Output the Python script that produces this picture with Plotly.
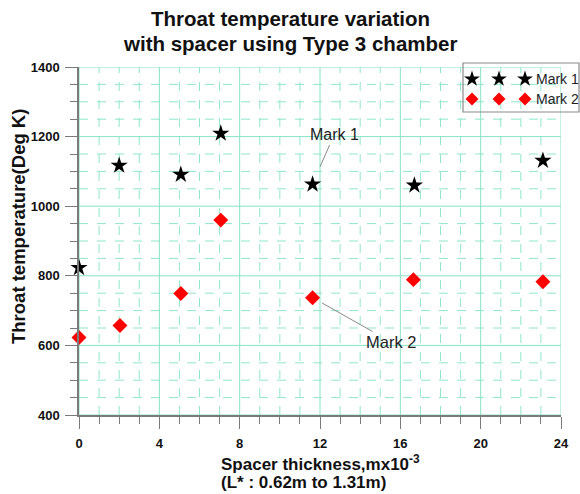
import numpy as np
import plotly.graph_objects as go

# Spacer thickness (x1e-3 m) and throat temperature (K)
mark1_x = [0.0, 2.0, 5.07, 7.06, 11.63, 16.7, 23.1]
mark1_y = [823, 1117, 1091, 1209, 1063, 1060, 1131]
mark2_x = [0.0, 2.04, 5.07, 7.06, 11.63, 16.65, 23.1]
mark2_y = [623, 657, 749, 960, 737, 789, 783]

series_names = ["Mark 1", "Mark 2"]
x_ticks = [0, 4, 8, 12, 16, 20, 24]
y_ticks = [400, 600, 800, 1000, 1200, 1400]

FONT = "Liberation Sans, Arial, sans-serif"
GRID = "#86e3c6"
GRID_MINOR = "#8fe6cb"
AXIS = "#7a7a7a"

fig = go.Figure()

fig.add_trace(go.Scatter(
    x=mark1_x, y=mark1_y, mode="markers", name=series_names[0],
    marker=dict(symbol="star", size=13, color="black", line=dict(width=0)),
    showlegend=False, cliponaxis=False,
))
fig.add_trace(go.Scatter(
    x=mark2_x, y=mark2_y, mode="markers", name=series_names[1],
    marker=dict(symbol="diamond", size=11.5, color="#ff0000", line=dict(width=0)),
    showlegend=False, cliponaxis=False,
))

# Legend samples: three symbols per entry, drawn on a hidden overlay axis
legend_sample_x = [472, 499, 525]
legend_rows_y = [79, 99]
fig.add_trace(go.Scatter(
    x=legend_sample_x, y=[legend_rows_y[0]] * 3, mode="markers",
    marker=dict(symbol="star", size=12, color="black"),
    xaxis="x2", yaxis="y2", showlegend=False, hoverinfo="skip", cliponaxis=False,
))
fig.add_trace(go.Scatter(
    x=legend_sample_x, y=[legend_rows_y[1]] * 3, mode="markers",
    marker=dict(symbol="diamond", size=10, color="#ff0000"),
    xaxis="x2", yaxis="y2", showlegend=False, hoverinfo="skip", cliponaxis=False,
))

axis_common = dict(
    showline=True, linecolor=AXIS, linewidth=1.5,
    ticks="outside", tickcolor=AXIS, tickwidth=1, ticklen=12,
    showgrid=False, zeroline=False, layer="above traces",
    tickfont=dict(family=FONT, size=13, color="#111", weight="bold"),
)
hidden_axis = dict(visible=False, showgrid=False, zeroline=False,
                   showticklabels=False, showline=False, ticks="")

fig.update_layout(
    width=580, height=494,
    margin=dict(l=79, r=19, t=67, b=79),
    paper_bgcolor="white", plot_bgcolor="white",
    showlegend=False,
    xaxis=dict(
        range=[0, 24], tickvals=x_ticks, ticklabelstandoff=4, **axis_common,
        minor=dict(dtick=1, ticks="outside", ticklen=7, tickcolor=AXIS, showgrid=False),
    ),
    yaxis=dict(
        range=[400, 1400], tickvals=y_ticks, ticklabelstandoff=3, **axis_common,
        minor=dict(dtick=50, ticks="outside", ticklen=7, tickcolor=AXIS, showgrid=False),
    ),
    xaxis2=dict(domain=[0, 1], range=[79, 561], overlaying="x", anchor="y2", **hidden_axis),
    yaxis2=dict(domain=[0, 1], range=[415, 67], overlaying="y", anchor="x2", **hidden_axis),
)

# Grid: solid lines at major ticks, dashed lines at the minor steps in between
x_minor = [v for v in np.arange(0, 24.5, 1) if v not in x_ticks]
y_minor = [v for v in np.arange(400, 1401, 50) if v not in y_ticks]
for v in x_minor:
    fig.add_shape(type="line", xref="x", yref="y", x0=v, x1=v, y0=400, y1=1400,
                  line=dict(color=GRID_MINOR, width=1, dash="dash"), layer="below")
for v in y_minor:
    fig.add_shape(type="line", xref="x", yref="y", x0=0, x1=24, y0=v, y1=v,
                  line=dict(color=GRID_MINOR, width=1, dash="dash"), layer="below")
for v in x_ticks:
    fig.add_shape(type="line", xref="x", yref="y", x0=v, x1=v, y0=400, y1=1400,
                  line=dict(color=GRID, width=1), layer="below")
for v in y_ticks:
    fig.add_shape(type="line", xref="x", yref="y", x0=0, x1=24, y0=v, y1=v,
                  line=dict(color=GRID, width=1), layer="below")

def px_x(p):
    return (p - 79) / 482

def px_y(p):
    return (415 - p) / 348

ann = []
# Title
for line, cy in (("Throat temperature variation", 19), ("with spacer using Type 3 chamber", 43)):
    ann.append(dict(text=f"<b>{line}</b>", xref="paper", yref="paper",
                    x=px_x(290), y=px_y(cy), xanchor="center", yanchor="middle",
                    showarrow=False, font=dict(family=FONT, size=20.5, color="#111")))
# Axis titles
for line, cy in (("Spacer thickness,mx10<sup>-3</sup>", 463), ("(L* : 0.62m to 1.31m)", 482)):
    ann.append(dict(text=f"<b>{line}</b>", xref="paper", yref="paper",
                    x=px_x(219), y=px_y(cy), xanchor="left", yanchor="middle",
                    showarrow=False, font=dict(family=FONT, size=17, color="#111")))
ann.append(dict(text="<b>Throat temperature(Deg K)</b>", xref="paper", yref="paper",
                x=px_x(18), y=px_y(227), xanchor="center", yanchor="middle",
                textangle=-90, showarrow=False,
                font=dict(family=FONT, size=18.5, color="#111")))
# Callouts
ann.append(dict(text="Mark 1", x=12.0, y=1113, ax=14, ay=-32, showarrow=True,
                arrowhead=0, arrowwidth=1, arrowcolor="#8a8a8a",
                font=dict(family=FONT, size=16, color="#222")))
ann.append(dict(text="Mark 2", x=12.1, y=722, ax=69, ay=39, showarrow=True,
                arrowhead=0, arrowwidth=1, arrowcolor="#8a8a8a",
                font=dict(family=FONT, size=16.5, color="#222")))
# Legend labels
for name, ly in zip(series_names, legend_rows_y):
    ann.append(dict(text=name, xref="x2", yref="y2", x=534, y=ly, xanchor="left",
                    yanchor="middle", showarrow=False,
                    font=dict(family=FONT, size=14, color="#222")))
fig.update_layout(annotations=ann)

# Legend frame
fig.add_shape(type="rect", xref="paper", yref="paper",
              x0=px_x(463), x1=px_x(579), y0=px_y(112), y1=px_y(63),
              line=dict(color="#8a8a8a", width=1.2), fillcolor="rgba(0,0,0,0)",
              layer="above")

fig.write_html("out.html")
